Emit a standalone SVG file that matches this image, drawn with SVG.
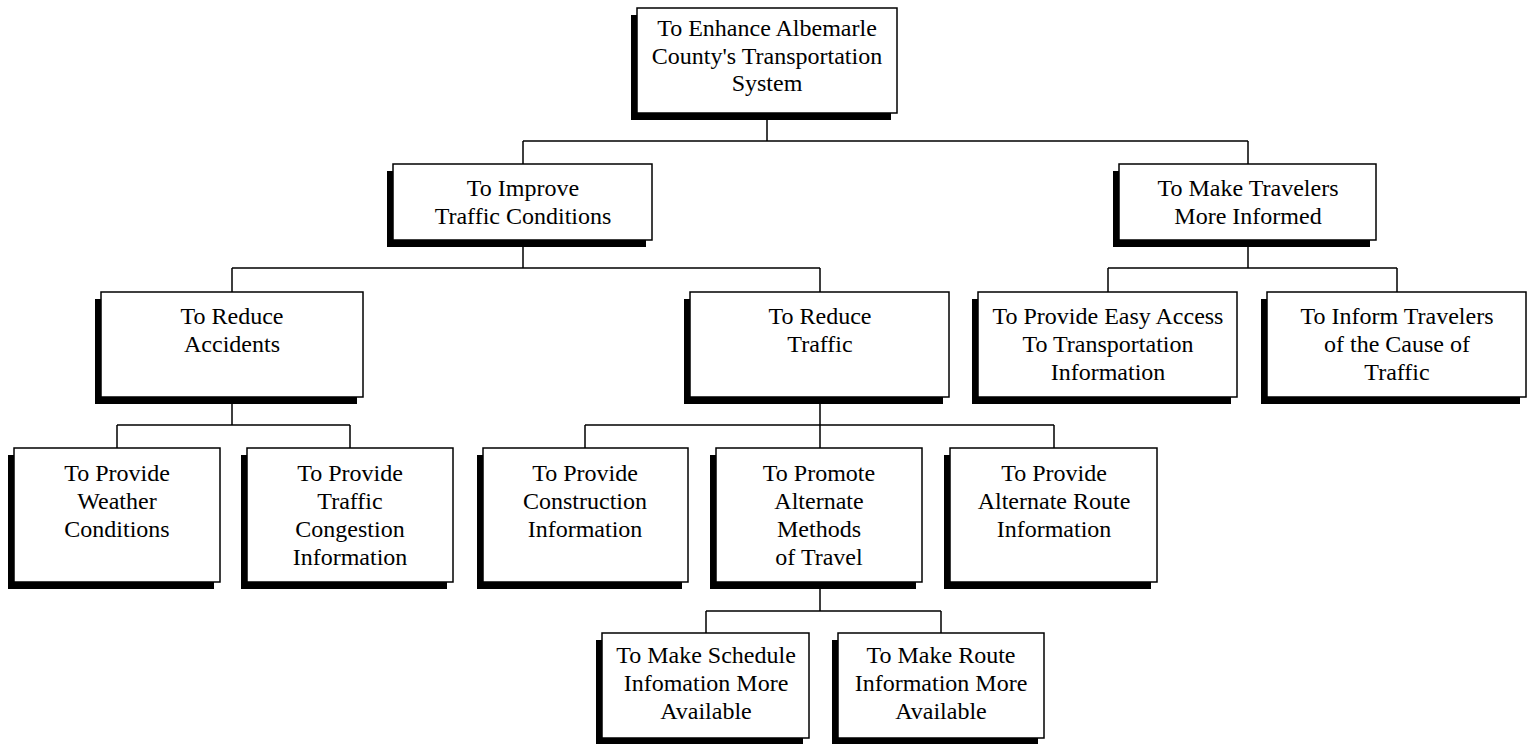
<svg xmlns="http://www.w3.org/2000/svg" width="1532" height="744" viewBox="0 0 1532 744">
  <style>
    .shadow { fill: #000; }
    .box { fill: #fff; stroke: #000; stroke-width: 1.5; }
    .lbl { font-family: "Liberation Serif", "Times New Roman", serif; font-size: 24px; fill: #000; text-anchor: middle; }
    .wire { fill: none; stroke: #000; stroke-width: 1.5; }
  </style>
  <rect x="0" y="0" width="1532" height="744" fill="#fff"/>

  <g id="connectors">
    <path class="wire" d="M767,113 V141 M523,141 H1248 M523,141 V164 M1248,141 V164"/>
    <path class="wire" d="M523,240 V268 M232,268 H820 M232,268 V292 M820,268 V292"/>
    <path class="wire" d="M1248,240 V268 M1108,268 H1397 M1108,268 V292 M1397,268 V292"/>
    <path class="wire" d="M232,397 V425 M117,425 H350 M117,425 V448 M350,425 V448"/>
    <path class="wire" d="M820,397 V425 M585,425 H1054 M585,425 V448 M820,425 V448 M1054,425 V448"/>
    <path class="wire" d="M820,582 V611 M706,611 H941 M706,611 V633 M941,611 V633"/>
  </g>

  <!-- each node: black shadow rect offset down-left, then the white box and its label -->
  <g id="root">
    <rect class="shadow" x="631" y="15" width="260" height="105"/>
    <rect class="box" x="637" y="8" width="260" height="105"/>
    <text class="lbl" x="767" y="36">To Enhance Albemarle</text>
    <text class="lbl" x="767" y="64">County's Transportation</text>
    <text class="lbl" x="767" y="91">System</text>
  </g>

  <g id="improve-traffic">
    <rect class="shadow" x="387" y="171" width="259" height="76"/>
    <rect class="box" x="393" y="164" width="259" height="76"/>
    <text class="lbl" x="523" y="196">To Improve</text>
    <text class="lbl" x="523" y="224">Traffic Conditions</text>
  </g>

  <g id="travelers-informed">
    <rect class="shadow" x="1113" y="171" width="257" height="76"/>
    <rect class="box" x="1119" y="164" width="257" height="76"/>
    <text class="lbl" x="1248" y="196">To Make Travelers</text>
    <text class="lbl" x="1248" y="224">More Informed</text>
  </g>

  <g id="reduce-accidents">
    <rect class="shadow" x="95" y="299" width="262" height="105"/>
    <rect class="box" x="101" y="292" width="262" height="105"/>
    <text class="lbl" x="232" y="324">To Reduce</text>
    <text class="lbl" x="232" y="352">Accidents</text>
  </g>

  <g id="reduce-traffic">
    <rect class="shadow" x="684" y="299" width="259" height="105"/>
    <rect class="box" x="690" y="292" width="259" height="105"/>
    <text class="lbl" x="820" y="324">To Reduce</text>
    <text class="lbl" x="820" y="352">Traffic</text>
  </g>

  <g id="easy-access">
    <rect class="shadow" x="972" y="299" width="259" height="105"/>
    <rect class="box" x="978" y="292" width="259" height="105"/>
    <text class="lbl" x="1108" y="324">To Provide Easy Access</text>
    <text class="lbl" x="1108" y="352">To Transportation</text>
    <text class="lbl" x="1108" y="380">Information</text>
  </g>

  <g id="inform-cause">
    <rect class="shadow" x="1261" y="299" width="259" height="105"/>
    <rect class="box" x="1267" y="292" width="259" height="105"/>
    <text class="lbl" x="1397" y="324">To Inform Travelers</text>
    <text class="lbl" x="1397" y="352">of the Cause of</text>
    <text class="lbl" x="1397" y="380">Traffic</text>
  </g>

  <g id="weather">
    <rect class="shadow" x="8" y="455" width="206" height="134"/>
    <rect class="box" x="14" y="448" width="206" height="134"/>
    <text class="lbl" x="117" y="481">To Provide</text>
    <text class="lbl" x="117" y="509">Weather</text>
    <text class="lbl" x="117" y="537">Conditions</text>
  </g>

  <g id="congestion">
    <rect class="shadow" x="241" y="455" width="206" height="134"/>
    <rect class="box" x="247" y="448" width="206" height="134"/>
    <text class="lbl" x="350" y="481">To Provide</text>
    <text class="lbl" x="350" y="509">Traffic</text>
    <text class="lbl" x="350" y="537">Congestion</text>
    <text class="lbl" x="350" y="565">Information</text>
  </g>

  <g id="construction">
    <rect class="shadow" x="477" y="455" width="205" height="134"/>
    <rect class="box" x="483" y="448" width="205" height="134"/>
    <text class="lbl" x="585" y="481">To Provide</text>
    <text class="lbl" x="585" y="509">Construction</text>
    <text class="lbl" x="585" y="537">Information</text>
  </g>

  <g id="alternate-methods">
    <rect class="shadow" x="710" y="455" width="206" height="134"/>
    <rect class="box" x="716" y="448" width="206" height="134"/>
    <text class="lbl" x="819" y="481">To Promote</text>
    <text class="lbl" x="819" y="509">Alternate</text>
    <text class="lbl" x="819" y="537">Methods</text>
    <text class="lbl" x="819" y="565">of Travel</text>
  </g>

  <g id="alternate-route">
    <rect class="shadow" x="944" y="455" width="207" height="134"/>
    <rect class="box" x="950" y="448" width="207" height="134"/>
    <text class="lbl" x="1054" y="481">To Provide</text>
    <text class="lbl" x="1054" y="509">Alternate Route</text>
    <text class="lbl" x="1054" y="537">Information</text>
  </g>

  <g id="schedule-info">
    <rect class="shadow" x="596" y="640" width="207" height="105"/>
    <rect class="box" x="602" y="633" width="207" height="105"/>
    <text class="lbl" x="706" y="663">To Make Schedule</text>
    <text class="lbl" x="706" y="691">Infomation More</text>
    <text class="lbl" x="706" y="719">Available</text>
  </g>

  <g id="route-info">
    <rect class="shadow" x="832" y="640" width="206" height="105"/>
    <rect class="box" x="838" y="633" width="206" height="105"/>
    <text class="lbl" x="941" y="663">To Make Route</text>
    <text class="lbl" x="941" y="691">Information More</text>
    <text class="lbl" x="941" y="719">Available</text>
  </g>
</svg>
